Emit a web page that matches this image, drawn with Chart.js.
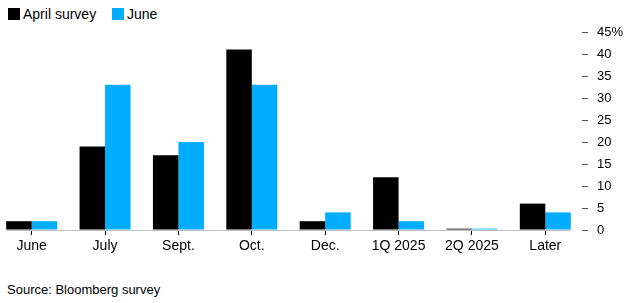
<!DOCTYPE html>
<html>
<head>
<meta charset="utf-8">
<script src="https://cdn.jsdelivr.net/npm/chart.js@4"></script>
<style>
    html, body { margin: 0; padding: 0; background: #fff; }
    body { width: 632px; height: 303px; position: relative; overflow: hidden; font-family: "Liberation Sans", Arial, sans-serif; color: #000; }
    .legend { position: absolute; left: 8px; top: 6px; font-size: 14px; line-height: 16px; }
    .legend span { display: inline-block; vertical-align: top; }
    .legend .box { width: 12px; height: 12px; margin-top: 2px; margin-right: 3px; }
    .legend .item2 { margin-left: 12px; }
    .wrap { position: absolute; left: -6px; top: 0; width: 638px; height: 262px; }
    .source { position: absolute; left: 7px; top: 282px; font-size: 13px; }
</style>
</head>
<body>
<div class="legend">
    <span class="box" style="background:#000"></span><span>April survey</span>
    <span class="box item2" style="background:#00adff"></span><span>June</span>
</div>
<div class="wrap"><canvas id="chart"></canvas></div>
<div class="source">Source: Bloomberg survey</div>

<script>
// Données
const categories = ['June', 'July', 'Sept.', 'Oct.', 'Dec.', '1Q 2025', '2Q 2025', 'Later'];
const aprilSurvey = [2, 19, 17, 41, 2, 12, 0.3, 6];
const juneSurvey = [2, 33, 20, 33, 4, 2, 0.3, 4];
const yTicks = [0, 5, 10, 15, 20, 25, 30, 35, 40, 45];

// Ligne de base grise, de la première à la dernière barre
const baseline = {
    id: 'baseline',
    beforeDatasetsDraw(chart) {
        const first = chart.getDatasetMeta(0).data[0];
        const last = chart.getDatasetMeta(1).data[categories.length - 1];
        if (!first || !last) return;
        const y = chart.scales.y.getPixelForValue(0);
        const ctx = chart.ctx;
        ctx.save();
        ctx.strokeStyle = '#bdbdbd';
        ctx.lineWidth = 1;
        ctx.beginPath();
        ctx.moveTo(first.x - first.width / 2, y + 0.5);
        ctx.lineTo(last.x + last.width / 2, y + 0.5);
        ctx.stroke();
        ctx.restore();
    }
};

new Chart(document.getElementById('chart'), {
    type: 'bar',
    data: {
        labels: categories,
        datasets: [
            { label: 'April survey', data: aprilSurvey, backgroundColor: '#000000', categoryPercentage: 0.695, barPercentage: 1 },
            { label: 'June', data: juneSurvey, backgroundColor: '#00adff', categoryPercentage: 0.695, barPercentage: 1 }
        ]
    },
    options: {
        responsive: true,
        maintainAspectRatio: false,
        animation: false,
        layout: { padding: { left: 1, right: 0, top: 32, bottom: 0 } },
        plugins: {
            legend: { display: false },
            tooltip: { enabled: false }
        },
        scales: {
            x: {
                grid: { offset: false, drawOnChartArea: false, tickLength: 5, color: '#000' },
                border: { display: false },
                ticks: { color: '#000', padding: 3, font: { family: 'Liberation Sans', size: 14 }, maxRotation: 0, autoSkip: false },
                afterFit: scale => { scale.height = 32; }
            },
            y: {
                position: 'right',
                min: 0,
                max: 45,
                afterBuildTicks: scale => { scale.ticks = yTicks.map(v => ({ value: v })); },
                grid: { drawOnChartArea: false, tickLength: 6, color: '#555' },
                border: { display: false },
                ticks: {
                    color: '#000',
                    padding: 9,
                    font: { family: 'Liberation Sans', size: 13 },
                    callback: v => v === 45 ? '45%' : v
                },
                afterFit: scale => { scale.width = 50; }
            }
        }
    },
    plugins: [baseline]
});
</script>
</body>
</html>
